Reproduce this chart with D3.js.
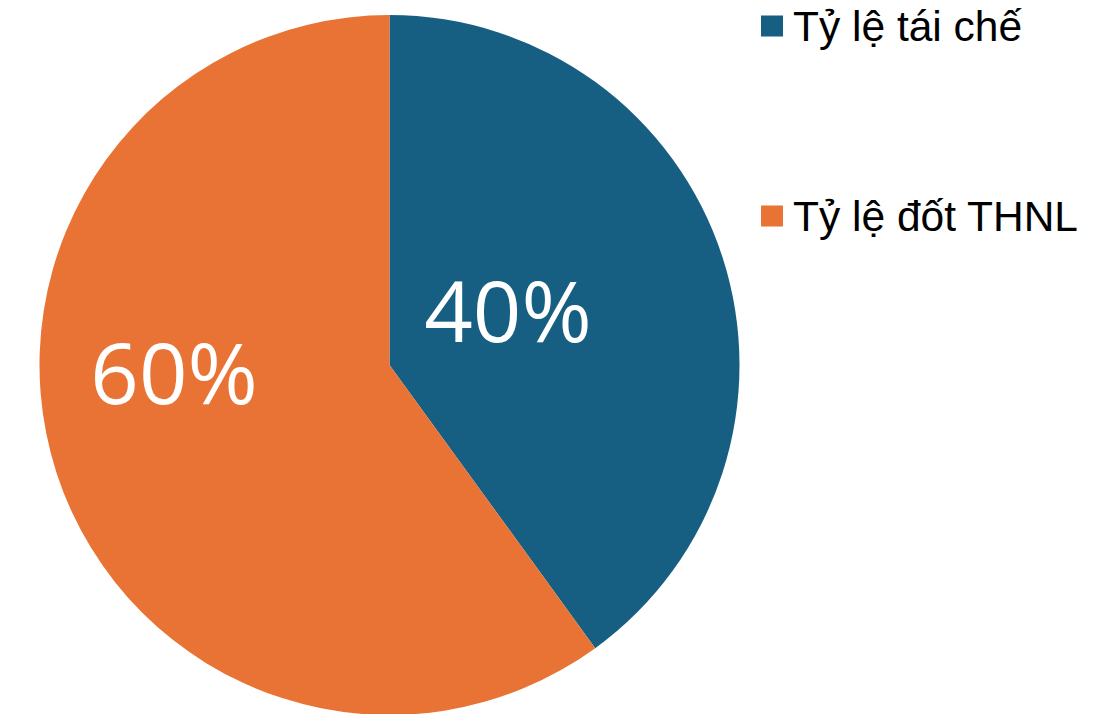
<!DOCTYPE html>
<html>
<head>
<meta charset="utf-8">
<script src="https://cdn.jsdelivr.net/npm/d3@7"></script>
<style>
  body { margin: 0; background: #fff; }
</style>
</head>
<body>
<div id="chart"></div>
<script>
const categories = ["Tỷ lệ tái chế", "Tỷ lệ đốt THNL"];
const values = [40, 60];
const labels = ["40%", "60%"];
const colors = ["#175f82", "#e97334"];

const width = 1119;
const height = 714;
const cx = 389.5;
const cy = 365;
const radius = 350;

// where the value labels sit, as (fraction of radius, angle in degrees clockwise from top)
const labelPolar = [[0.372, 65.5], [0.616, 267.9]];

const svg = d3.select("#chart")
  .append("svg")
  .attr("width", width)
  .attr("height", height);

const pie = d3.pie().sort(null).value(d => d);
const arcs = pie(values);

const arc = d3.arc().innerRadius(0).outerRadius(radius);

const g = svg.append("g").attr("transform", `translate(${cx},${cy})`);

g.selectAll("path.slice")
  .data(arcs)
  .enter().append("path")
  .attr("class", "slice")
  .attr("d", arc)
  .attr("fill", (d, i) => colors[i]);

g.selectAll("text.lbl")
  .data(arcs)
  .enter().append("text")
  .attr("class", "lbl")
  .attr("x", (d, i) => labelPolar[i][0] * radius * Math.sin(labelPolar[i][1] * Math.PI / 180))
  .attr("y", (d, i) => -labelPolar[i][0] * radius * Math.cos(labelPolar[i][1] * Math.PI / 180))
  .attr("text-anchor", "middle")
  .attr("dy", "0.36em")
  .attr("fill", "#fff")
  .style("font-family", "'Open Sans', 'Noto Sans', sans-serif")
  .style("font-size", "85px")
  .text((d, i) => labels[i]);

// legend
const legendY = d3.scalePoint()
  .domain(categories)
  .range([26, 216]);

const legend = svg.append("g");

const item = legend.selectAll("g.item")
  .data(categories)
  .enter().append("g")
  .attr("class", "item")
  .attr("transform", d => `translate(761,${legendY(d)})`);

item.append("rect")
  .attr("x", 0)
  .attr("y", -10.5)
  .attr("width", 22)
  .attr("height", 21)
  .attr("fill", (d, i) => colors[i]);

item.append("text")
  .attr("x", 32)
  .attr("y", 15)
  .attr("fill", "#000")
  .style("font-family", "'Liberation Sans', Arial, sans-serif")
  .style("font-size", "42.5px")
  .text(d => d);
</script>
</body>
</html>
